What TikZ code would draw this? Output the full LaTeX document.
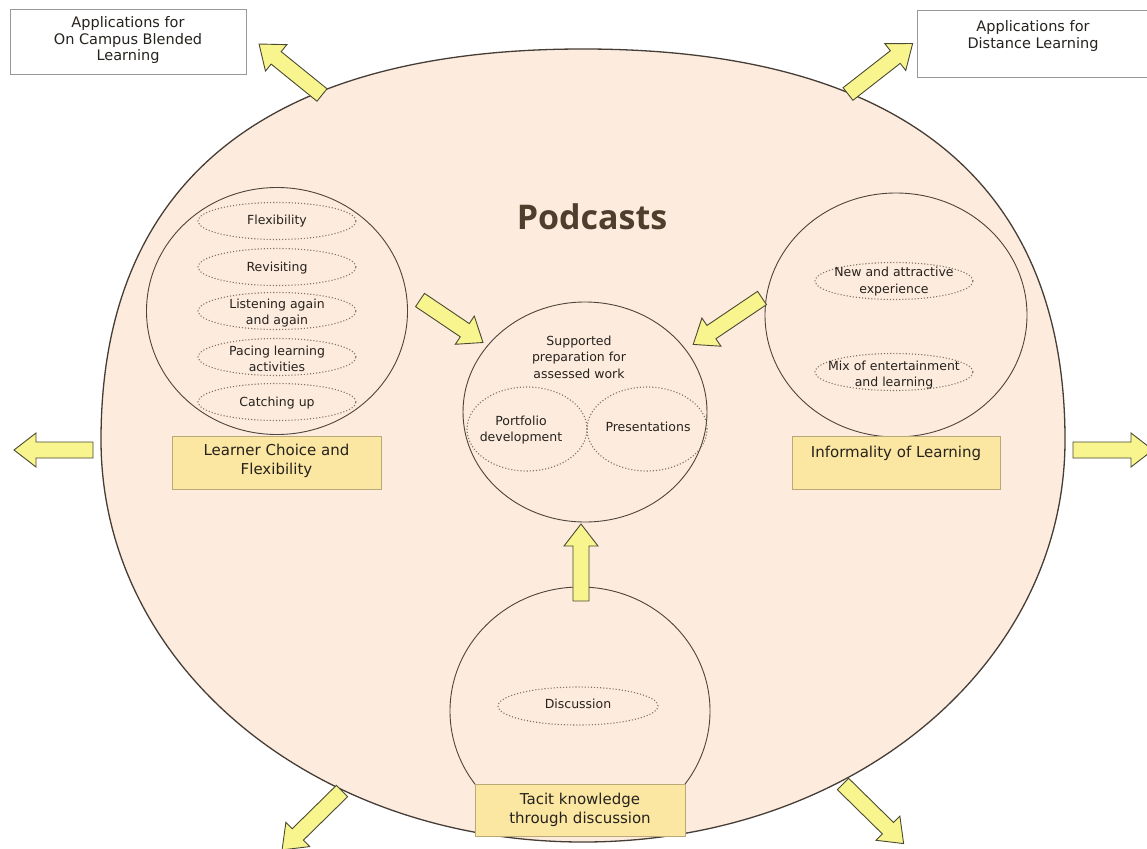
\documentclass[tikz,border=0pt]{standalone}
\usepackage{fontspec}
\setmainfont{DejaVu Sans}
\newfontfamily\titlefont{Open Sans}
\usetikzlibrary{shapes.geometric}
\definecolor{peach}{HTML}{FDECDD}
\definecolor{arrowyellow}{HTML}{F8F48E}
\definecolor{arrowedge}{HTML}{4A4A32}
\definecolor{boxyellow}{HTML}{FBE6A2}
\definecolor{boxedge}{HTML}{B9A878}
\definecolor{circedge}{HTML}{4E443C}
\definecolor{dotedge}{HTML}{7E7468}
\definecolor{titlebrown}{HTML}{4F3E2C}
\definecolor{txt}{HTML}{26221E}
\tikzset{
  bigoval/.style={draw=circedge!90!black, line width=1.3pt, fill=peach},
  topic/.style={ellipse, draw=circedge, line width=0.9pt, fill=peach, inner sep=0pt},
  idea/.style={ellipse, draw=dotedge, dotted, line width=1.1pt, inner sep=0pt, minimum width=158pt, minimum height=37pt},
  ideatext/.style={font=\fontsize{12.5}{16.5}\selectfont, text=txt, align=center, inner sep=0pt},
  labelbox/.style={rectangle, draw=boxedge, fill=boxyellow, line width=0.7pt, inner sep=0pt},
  labeltext/.style={font=\fontsize{15}{19}\selectfont, text=txt, align=center, inner sep=0pt},
  appbox/.style={rectangle, draw=gray!80, fill=white, line width=0.8pt, inner sep=0pt},
  apptext/.style={font=\fontsize{14.5}{16.5}\selectfont, text=txt, align=center, inner sep=0pt},
  blockarrow/.style={draw=arrowedge, fill=arrowyellow, line width=0.9pt, line join=miter},
  pics/barrow/.style={code={
    \path[blockarrow] (0,-8) -- ({#1-22},-8) -- ({#1-22},-17) -- (#1,0)
      -- ({#1-22},17) -- ({#1-22},8) -- (0,8) -- cycle;}}
}
\begin{document}
\begin{tikzpicture}[x=1pt,y=-1pt]
\useasboundingbox (0,0) rectangle (1147,848);
\fill[white] (0,0) rectangle (1147,848);

% main oval (slightly flattened towards the top)
\coordinate (ovR) at (1065,440);
\coordinate (ovT) at (583,49);
\coordinate (ovL) at (101,440);
\coordinate (ovB) at (583,842);
\path[bigoval] (ovR) .. controls (1065,180) and (898,49) .. (ovT)
  .. controls (268,49) and (101,180) .. (ovL)
  .. controls (101,665) and (313,842) .. (ovB)
  .. controls (853,842) and (1065,665) .. (ovR) -- cycle;

% outer arrows
\pic[rotate=141] at (322,95) {barrow=81};
\pic[rotate=38] at (848,94) {barrow=82};
\pic[rotate=180] at (93,450) {barrow=79};
\pic[rotate=0] at (1073,450) {barrow=80};
\pic[rotate=224.5] at (342,791) {barrow=84};
\pic[rotate=-44.5] at (843,784) {barrow=85};

% application boxes
\node[appbox, minimum width=236pt, minimum height=65pt] (campus) at (128,41.5) {};
\node[apptext] (campustext) at (128,40.5) {Applications for\\On Campus Blended\\Learning};
\node[appbox, minimum width=236pt, minimum height=67pt] (distance) at (1035,43.5) {};
\node[apptext] (distancetext) at (1033,36) {Applications for\\Distance Learning};

% title
\node[font=\titlefont\bfseries\fontsize{34}{38}\selectfont, text=titlebrown, inner sep=0pt] (title) at (592,217) {Podcasts};

% learner choice circle
\node[topic, minimum width=261pt, minimum height=247pt] (choice) at (277,311) {};
\node[idea] (flex) at (277,221) {};
\node[ideatext] (flext) at (flex) {Flexibility};
\node[idea] (revis) at (277,267) {};
\node[ideatext] (revist) at (277,268) {Revisiting};
\node[idea] (listen) at (277,311) {};
\node[ideatext] (listent) at (277,313) {Listening again\\and again};
\node[idea] (pacing) at (277,357) {};
\node[ideatext] (pacingt) at (277,359) {Pacing learning\\activities};
\node[idea] (catch) at (277,402) {};
\node[ideatext] (catcht) at (277,403) {Catching up};
\node[labelbox, minimum width=209pt, minimum height=53pt] (choicebox) at (276.5,462.5) {};
\node[labeltext] (choicet) at (276.5,460.5) {Learner Choice and\\Flexibility};

% informality circle
\node[topic, minimum width=262pt, minimum height=244pt] (informal) at (896,315) {};
\node[idea] (newexp) at (894,281) {};
\node[ideatext] (newexpt) at (894,281.5) {New and attractive\\experience};
\node[idea] (mix) at (894,372) {};
\node[ideatext] (mixt) at (894,375) {Mix of entertainment\\and learning};
\node[labelbox, minimum width=208pt, minimum height=53pt] (informalbox) at (896,462.5) {};
\node[labeltext] (informalt) at (896,453) {Informality of Learning};

% supported preparation circle
\node[topic, minimum width=244pt, minimum height=220pt] (prep) at (585,412) {};
\node[ideatext] (prept) at (579,357) {Supported\\preparation for\\assessed work};
\node[idea, minimum width=120pt, minimum height=84pt] (port) at (527,429) {};
\node[ideatext] (portt) at (521,430) {Portfolio\\development};
\node[idea, minimum width=120pt, minimum height=84pt] (pres) at (647,429) {};
\node[ideatext] (prest) at (648,427) {Presentations};

% tacit knowledge circle
\node[topic, minimum width=260pt, minimum height=248pt] (tacit) at (580,711) {};
\node[idea, minimum width=160pt, minimum height=38pt] (disc) at (578,706) {};
\node[ideatext] (disct) at (578,704) {Discussion};
\node[labelbox, minimum width=210pt, minimum height=52pt] (tacitbox) at (580,810) {};
\node[labeltext] (tacitt) at (580,809.5) {Tacit knowledge\\through discussion};

% inner arrows
\pic[rotate=90] at (581,601) {barrow=77};
\pic[rotate=-34] at (420,300) {barrow=76};
\pic[rotate=214] at (762,298) {barrow=83};
\end{tikzpicture}
\end{document}
